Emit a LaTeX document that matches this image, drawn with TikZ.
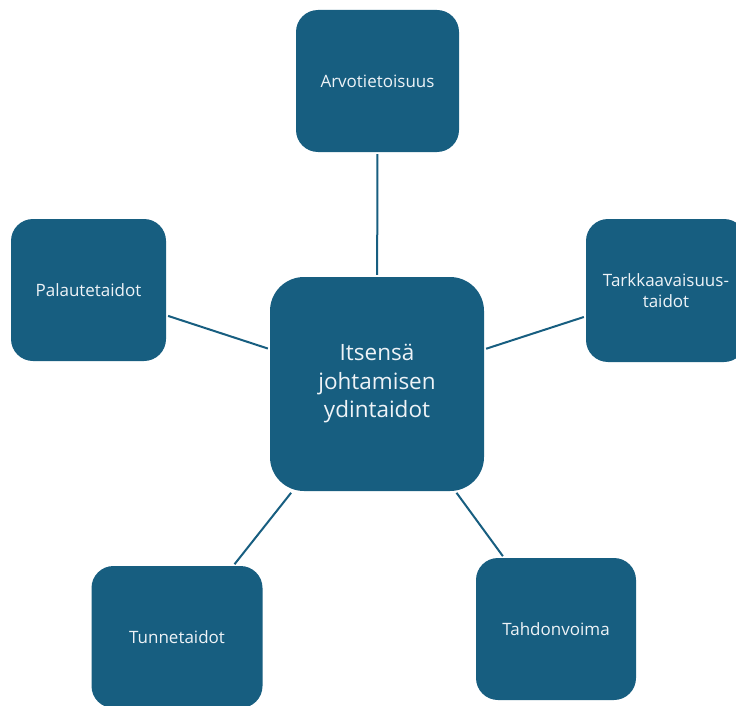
\documentclass[tikz,border=0pt]{standalone}
\usepackage{fontspec}
\setmainfont{Open Sans}
\definecolor{boxblue}{RGB}{23,94,128}
\definecolor{boxtext}{RGB}{238,243,247}
\begin{document}
\begin{tikzpicture}[x=1pt,y=-1pt,
  box/.style={draw=none,fill=boxblue,rounded corners=22pt,text=boxtext,
    inner sep=0pt,align=center,font=\fontsize{17}{21.5}\selectfont},
  bigbox/.style={box,rounded corners=34pt,font=\fontsize{22.5}{28.5}\selectfont},
  conn/.style={draw=boxblue,line width=2pt,shorten <=2pt,shorten >=2pt}]
\useasboundingbox (0,0) rectangle (736,706);
\clip (0,0) rectangle (736,706);
\node[bigbox,minimum width=214pt,minimum height=214pt] (ctr) at (377,384) {Itsensä\\johtamisen\\ydintaidot};
\node[box,minimum width=163pt,minimum height=142pt] (arv) at (377.5,81) {Arvotietoisuus};
\node[box,minimum width=155pt,minimum height=142pt] (pal) at (88.5,290) {Palautetaidot};
\node[box,minimum width=160pt,minimum height=143pt] (tar) at (666,290.5) {Tarkkaavaisuus-\\taidot};
\node[box,minimum width=171pt,minimum height=142pt] (tun) at (177,637) {Tunnetaidot};
\node[box,minimum width=160pt,minimum height=142pt] (tah) at (556,629) {Tahdonvoima};
\draw[conn] (ctr) -- (arv);
\draw[conn] (ctr) -- (pal);
\draw[conn] (ctr) -- (tar);
\draw[conn] (ctr) -- (tun);
\draw[conn] (ctr) -- (tah);
\end{tikzpicture}
\end{document}
